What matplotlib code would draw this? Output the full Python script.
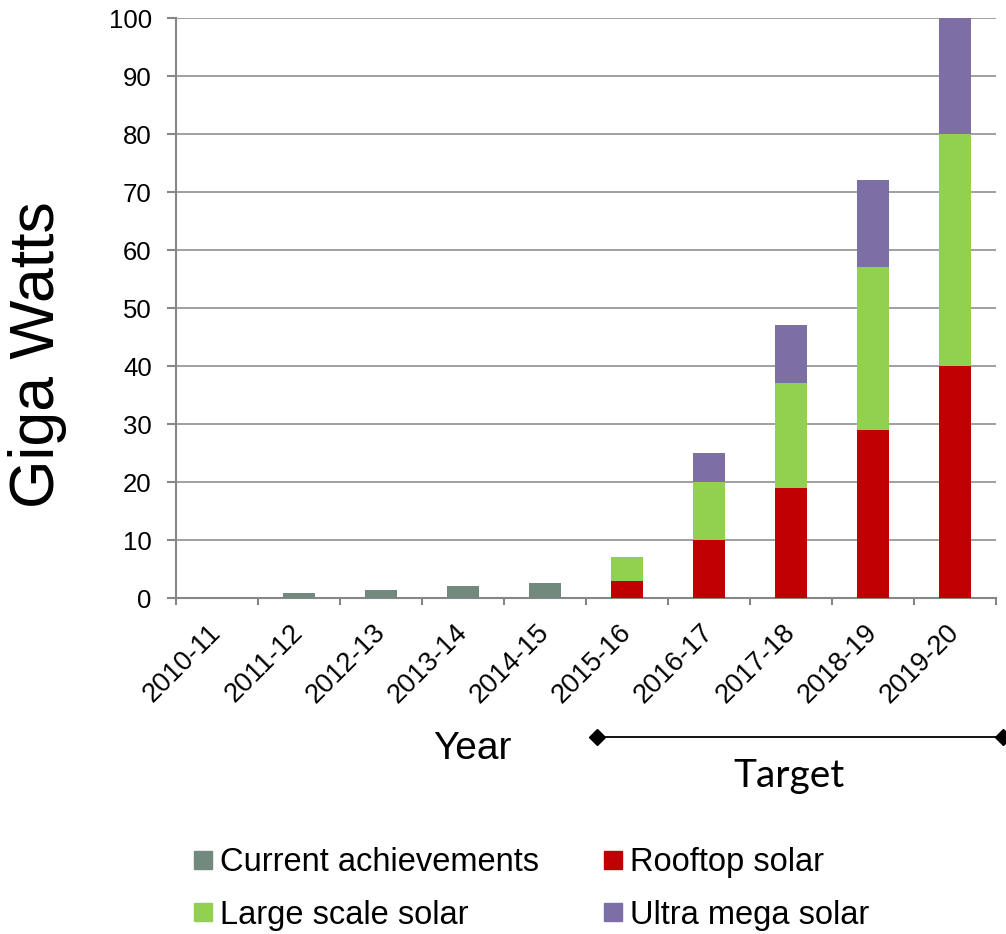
import numpy as np
import matplotlib
matplotlib.use("Agg")
import matplotlib.pyplot as plt
from matplotlib.lines import Line2D

plt.rcParams["font.family"] = ["Liberation Sans", "DejaVu Sans"]

years = ["2010-11", "2011-12", "2012-13", "2013-14", "2014-15",
         "2015-16", "2016-17", "2017-18", "2018-19", "2019-20"]
current = [0.04, 0.9, 1.4, 2.0, 2.6, 0, 0, 0, 0, 0]
rooftop = [0, 0, 0, 0, 0, 3, 10, 19, 29, 40]
large = [0, 0, 0, 0, 0, 4, 10, 18, 28, 40]
ultra = [0, 0, 0, 0, 0, 0, 5, 10, 15, 20]

C_CUR = "#728A7E"
C_ROOF = "#C00000"
C_LARGE = "#92D050"
C_ULTRA = "#7E6EA6"
GRID = "#868686"

fig = plt.figure(figsize=(10.06, 9.34), dpi=100)
ax = fig.add_axes([0.175, 0.3597, 0.815, 0.621])

x = np.arange(len(years))
w = 0.4
rooftop = np.array(rooftop)
large = np.array(large)
ax.bar(x, current, w, color=C_CUR, zorder=3)
ax.bar(x, rooftop, w, color=C_ROOF, zorder=3)
ax.bar(x, large, w, bottom=rooftop, color=C_LARGE, zorder=3)
ax.bar(x, ultra, w, bottom=rooftop + large, color=C_ULTRA, zorder=3)

ax.set_xlim(-0.5, len(years) - 0.5)
ax.set_ylim(0, 100)
ax.set_yticks(np.arange(0, 101, 10))
ax.yaxis.grid(True, color=GRID, lw=1.1)
ax.set_axisbelow(True)

ax.set_xticks(x)
ax.set_xticklabels(years, rotation=45, ha="right", va="center",
                   rotation_mode="anchor")
ax.set_xticks(np.arange(-0.5, len(years), 1), minor=True)
ax.tick_params(axis="x", which="major", length=0, pad=22, labelsize=19.5)
ax.tick_params(axis="x", which="minor", length=5, width=1.5, color=GRID)
ax.tick_params(axis="y", length=6.5, width=1.5, color=GRID, pad=11,
               labelsize=18.5)

for s in ["top", "right"]:
    ax.spines[s].set_visible(False)
for s in ["left", "bottom"]:
    ax.spines[s].set_color(GRID)
    ax.spines[s].set_linewidth(1.5)

fig.text(0.037, 0.62, "Giga Watts", rotation=90, ha="center", va="center",
         fontsize=45)
fig.text(472 / 1006, 1 - 749 / 934, "Year", ha="center", va="center",
         fontsize=28)
fig.text(789 / 1006, 1 - 776 / 934, "Target", ha="center", va="center",
         fontsize=28, family=["Lato", "DejaVu Sans"])

# target span line
fig.add_artist(Line2D([597 / 1006, 1003 / 1006], [1 - 737 / 934] * 2,
                      color="black", lw=1.3, marker="D", markersize=8,
                      transform=fig.transFigure))

handles = [Line2D([], [], ls="", marker="s", markersize=12.5, color=c)
           for c in [C_CUR, C_LARGE, C_ROOF, C_ULTRA]]
labels = ["Current achievements", "Large scale solar",
          "Rooftop solar", "Ultra mega solar"]
fig.legend(handles, labels, ncol=2, loc="upper left",
           bbox_to_anchor=(193 / 1006, 1 - 847 / 934), frameon=False,
           fontsize=23.5, handlelength=0.6, handletextpad=0.23,
           columnspacing=1.95, labelspacing=0.66, borderaxespad=0,
           borderpad=0)

fig.savefig("out.png", dpi=100)
